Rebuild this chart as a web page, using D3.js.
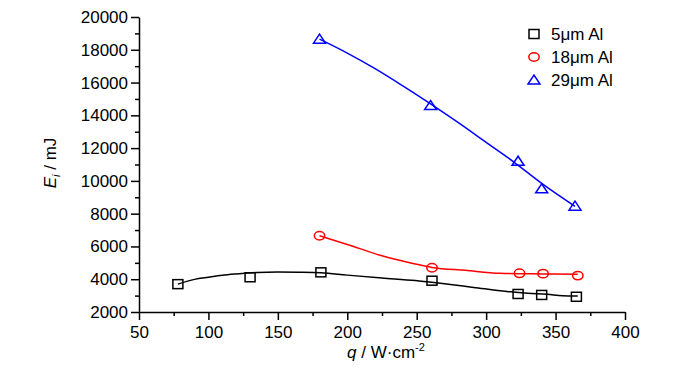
<!DOCTYPE html>
<html><head>
<meta charset="utf-8">
<script src="https://d3js.org/d3.v7.min.js"></script>
<style>
  body { margin: 0; background: #fff; }
  text { font-family: "Liberation Sans", Arial, sans-serif; }
</style>
</head>
<body>
<svg id="chart" width="700" height="373"></svg>
<script>
// measured points
const seriesNames = ["5μm Al", "18μm Al", "29μm Al"];
const colors = ["#000000", "#ff0000", "#0000ff"];

const q5 = [78, 130, 181, 261, 323, 340, 365];
const e5 = [3700, 4120, 4420, 3910, 3100, 3040, 2930];
const q18 = [180, 261, 324, 341, 366];
const e18 = [6650, 4700, 4360, 4340, 4220];
const q29 = [180, 260, 323, 340, 364];
const e29 = [18650, 14600, 11200, 9520, 8460];

// fitted curves
const fit5q = [78, 90, 100, 110, 120, 135, 150, 165, 181, 200, 225, 249, 267, 291, 315, 330, 344, 355, 366];
const fit5e = [3700, 3990, 4120, 4240, 4320, 4410, 4440, 4430, 4400, 4250, 4075, 3920, 3750, 3500, 3250, 3140, 3080, 2990, 2970];
const fit18q = [180, 200, 225, 249, 261, 285, 310, 340, 366];
const fit18e = [6650, 6120, 5430, 4930, 4720, 4540, 4360, 4320, 4300];
const fit29q = [180, 200, 220, 240, 260, 280, 300, 320, 340, 364];
const fit29e = [18650, 17800, 16850, 15800, 14700, 13550, 12350, 11150, 9850, 8450];

const xTicks = [50, 100, 150, 200, 250, 300, 350, 400];
const yTicks = [2000, 4000, 6000, 8000, 10000, 12000, 14000, 16000, 18000, 20000];

const svg = d3.select("svg#chart");
const x = d3.scaleLinear().domain([50, 400]).range([139, 625]);
const y = d3.scaleLinear().domain([2000, 20000]).range([312, 17]);

// axes
const xAxis = svg.append("g").attr("transform", "translate(0,312)")
    .call(d3.axisBottom(x).tickValues(xTicks).tickSize(8).tickSizeOuter(0).tickPadding(2)
      .tickFormat(d3.format("d")));
svg.append("g").attr("transform", "translate(0,312)")
    .call(d3.axisBottom(x).tickValues(d3.range(75, 400, 50)).tickSize(4).tickFormat(""))
    .select(".domain").remove();
const yAxis = svg.append("g").attr("transform", "translate(139,0)")
    .call(d3.axisLeft(y).tickValues(yTicks).tickSize(8).tickSizeOuter(0).tickPadding(3)
      .tickFormat(d3.format("d")));
svg.append("g").attr("transform", "translate(139,0)")
    .call(d3.axisLeft(y).tickValues(d3.range(3000, 20000, 2000)).tickSize(4).tickFormat(""))
    .select(".domain").remove();

svg.selectAll(".tick line, .domain").attr("stroke", "#000").attr("stroke-width", 1.5);
svg.selectAll(".tick text").attr("font-size", 17).attr("fill", "#000")
    .attr("font-family", "Liberation Sans, Arial, sans-serif");
xAxis.selectAll(".tick text").attr("dy", "0.95em");

// axis titles
const yt = svg.append("text").attr("transform", "translate(56,163) rotate(-90)")
    .attr("text-anchor", "middle").attr("font-size", 17);
yt.append("tspan").attr("font-style", "italic").text("E");
yt.append("tspan").attr("font-style", "italic").attr("font-size", 11).attr("dy", 4).text("i");
yt.append("tspan").attr("dy", -4).text(" / mJ");

const xt = svg.append("text").attr("x", 386).attr("y", 358)
    .attr("text-anchor", "middle").attr("font-size", 17);
xt.append("tspan").attr("font-style", "italic").text("q");
xt.append("tspan").text(" / W·cm");
xt.append("tspan").attr("font-size", 11).attr("dy", -7).text("-2");

// fitted lines
const line = d3.line().x(d => x(d[0])).y(d => y(d[1])).curve(d3.curveMonotoneX);
const fits = [[fit5q, fit5e], [fit18q, fit18e], [fit29q, fit29e]];
fits.forEach((f, i) => {
  svg.append("path").datum(d3.zip(f[0], f[1]))
    .attr("d", line).attr("fill", "none")
    .attr("stroke", colors[i]).attr("stroke-width", 1.5);
});

// markers
function marker(g, type, cx, cy, color) {
  if (type === 0) {
    g.append("rect").attr("x", cx - 5).attr("y", cy - 4.5).attr("width", 10).attr("height", 9)
      .attr("fill", "none").attr("stroke", color).attr("stroke-width", 1.5);
  } else if (type === 1) {
    g.append("ellipse").attr("cx", cx).attr("cy", cy).attr("rx", 5.2).attr("ry", 4.2)
      .attr("fill", "none").attr("stroke", color).attr("stroke-width", 1.5);
  } else {
    g.append("path").attr("d", `M${cx - 6},${cy + 4} L${cx + 6},${cy + 4} L${cx},${cy - 5} Z`)
      .attr("fill", "none").attr("stroke", color).attr("stroke-width", 1.5);
  }
}

const pts = [[q5, e5], [q18, e18], [q29, e29]];
const mg = svg.append("g");
pts.forEach((p, i) => {
  p[0].forEach((q, j) => marker(mg, i, x(q), y(p[1][j]), colors[i]));
});

// legend
const lg = svg.append("g");
seriesNames.forEach((name, i) => {
  const ly = 34 + i * 23;
  marker(lg, i, 534, ly, colors[i]);
  lg.append("text").attr("x", 551).attr("y", ly + 6)
    .attr("font-size", 17).attr("fill", "#000").text(name);
});
</script>
</body>
</html>
